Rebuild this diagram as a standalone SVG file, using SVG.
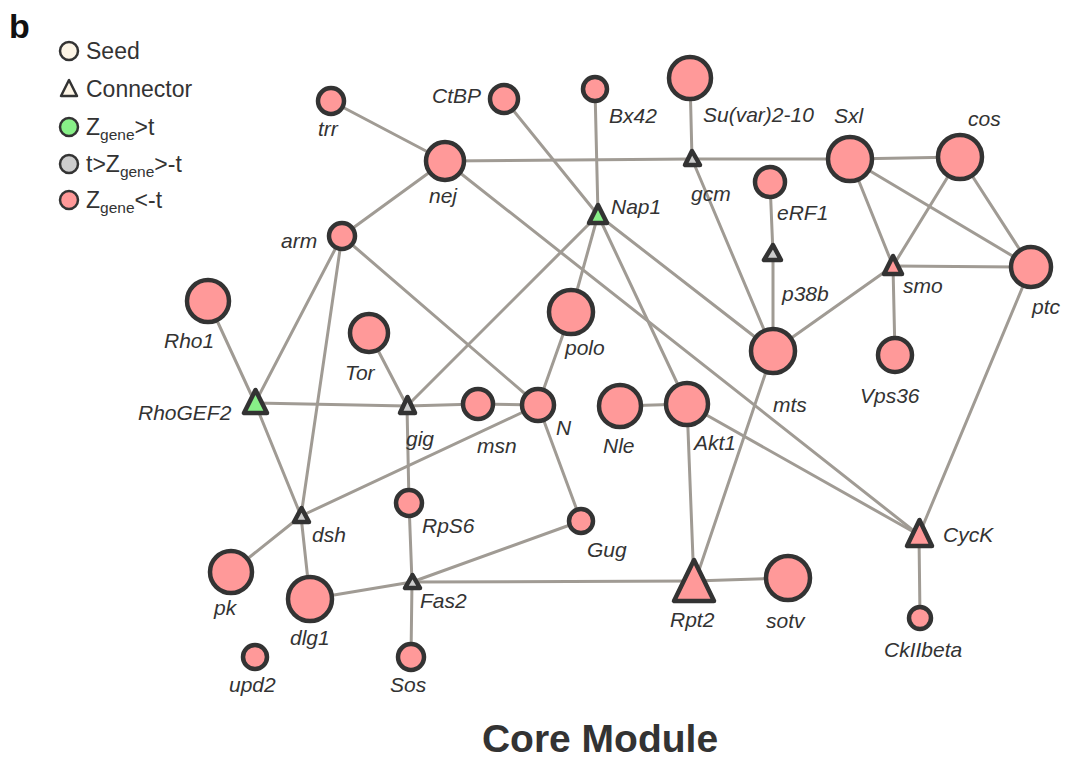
<svg xmlns="http://www.w3.org/2000/svg" width="1065" height="759" viewBox="0 0 1065 759">
<style>
.e{stroke:#a09b94;stroke-width:3;fill:none;stroke-linecap:round}
.n{fill:#ff9999;stroke:#333;stroke-width:4.5}
.t{stroke:#333;stroke-width:4.5;stroke-linejoin:round}
.pk{fill:#ff9999}
.gr{fill:#88f088}
.gy{fill:#cccccc}
.lb{font-family:"Liberation Sans",Arial,sans-serif;font-style:italic;font-size:21px;fill:#333}
.lg{font-family:"Liberation Sans",Arial,sans-serif;font-size:23px;fill:#333}
.li{stroke:#333;stroke-width:2.5}
</style>
<rect width="1065" height="759" fill="#fff"/>
<text x="9" y="38" font-family="Liberation Sans,Arial,sans-serif" font-weight="bold" font-size="34" fill="#111">b</text>
<g id="legend">
<circle cx="69" cy="51" r="9" fill="#fdf5e6" class="li"/>
<text x="86" y="59" class="lg">Seed</text>
<path d="M69 80 L61 96 L77 96 Z" fill="#fdf5e6" class="li" stroke-linejoin="round"/>
<text x="86" y="97" class="lg">Connector</text>
<circle cx="69" cy="127" r="9" fill="#88f088" class="li"/>
<text x="86" y="135" class="lg">Z<tspan font-size="15.5" dy="5">gene</tspan><tspan dy="-5">&gt;t</tspan></text>
<circle cx="69" cy="164" r="9" fill="#cccccc" class="li"/>
<text x="86" y="172" class="lg">t&gt;Z<tspan font-size="15.5" dy="5">gene</tspan><tspan dy="-5">&gt;-t</tspan></text>
<circle cx="69" cy="200" r="9" fill="#ff9999" class="li"/>
<text x="86" y="208" class="lg">Z<tspan font-size="15.5" dy="5">gene</tspan><tspan dy="-5">&lt;-t</tspan></text>
</g>
<g id="edges">
<line class="e" x1="331" y1="101" x2="445" y2="161"/>
<line class="e" x1="445" y1="161" x2="692" y2="159"/>
<line class="e" x1="692" y1="159" x2="850" y2="159"/>
<line class="e" x1="850" y1="159" x2="960" y2="157"/>
<line class="e" x1="690" y1="78" x2="692" y2="159"/>
<line class="e" x1="692" y1="159" x2="773" y2="351"/>
<line class="e" x1="504" y1="99" x2="598" y2="215"/>
<line class="e" x1="595" y1="89" x2="598" y2="215"/>
<line class="e" x1="445" y1="161" x2="342" y2="236"/>
<line class="e" x1="445" y1="161" x2="919" y2="535"/>
<line class="e" x1="598" y1="215" x2="407" y2="406"/>
<line class="e" x1="598" y1="215" x2="571" y2="312"/>
<line class="e" x1="598" y1="215" x2="687" y2="404"/>
<line class="e" x1="598" y1="215" x2="773" y2="351"/>
<line class="e" x1="571" y1="312" x2="538" y2="405"/>
<line class="e" x1="342" y1="236" x2="255" y2="403"/>
<line class="e" x1="342" y1="236" x2="301" y2="516"/>
<line class="e" x1="342" y1="236" x2="538" y2="405"/>
<line class="e" x1="208" y1="301" x2="255" y2="403"/>
<line class="e" x1="255" y1="403" x2="407" y2="406"/>
<line class="e" x1="255" y1="403" x2="301" y2="516"/>
<line class="e" x1="369" y1="333" x2="407" y2="406"/>
<line class="e" x1="407" y1="406" x2="478" y2="404"/>
<line class="e" x1="478" y1="404" x2="538" y2="405"/>
<line class="e" x1="407" y1="406" x2="409" y2="503"/>
<line class="e" x1="538" y1="405" x2="301" y2="516"/>
<line class="e" x1="538" y1="405" x2="581" y2="521"/>
<line class="e" x1="620" y1="406" x2="687" y2="404"/>
<line class="e" x1="687" y1="404" x2="694" y2="585"/>
<line class="e" x1="687" y1="404" x2="919" y2="535"/>
<line class="e" x1="773" y1="351" x2="694" y2="585"/>
<line class="e" x1="773" y1="351" x2="773" y2="254"/>
<line class="e" x1="773" y1="254" x2="770" y2="182"/>
<line class="e" x1="773" y1="351" x2="893" y2="266"/>
<line class="e" x1="850" y1="159" x2="893" y2="266"/>
<line class="e" x1="850" y1="159" x2="1031" y2="267"/>
<line class="e" x1="960" y1="157" x2="893" y2="266"/>
<line class="e" x1="960" y1="157" x2="1031" y2="267"/>
<line class="e" x1="893" y1="266" x2="1031" y2="267"/>
<line class="e" x1="893" y1="266" x2="895" y2="355"/>
<line class="e" x1="1031" y1="267" x2="919" y2="535"/>
<line class="e" x1="919" y1="535" x2="920" y2="618"/>
<line class="e" x1="301" y1="516" x2="231" y2="572"/>
<line class="e" x1="301" y1="516" x2="310" y2="599"/>
<line class="e" x1="310" y1="599" x2="412" y2="582"/>
<line class="e" x1="409" y1="503" x2="412" y2="582"/>
<line class="e" x1="412" y1="582" x2="411" y2="657"/>
<line class="e" x1="412" y1="582" x2="581" y2="521"/>
<line class="e" x1="412" y1="582" x2="694" y2="581"/>
<line class="e" x1="694" y1="581" x2="788" y2="578"/>
</g>
<g id="trr"><circle class="n" cx="331" cy="101" r="13"/><text class="lb" x="318" y="136">trr</text></g>
<g id="CtBP"><circle class="n" cx="504" cy="99" r="14"/><text class="lb" x="432" y="103">CtBP</text></g>
<g id="Bx42"><circle class="n" cx="595" cy="89" r="12"/><text class="lb" x="609" y="123">Bx42</text></g>
<g id="Suvar210"><circle class="n" cx="690" cy="78" r="21"/><text class="lb" x="703" y="122">Su(var)2-10</text></g>
<g id="nej"><circle class="n" cx="445" cy="161" r="19"/><text class="lb" x="429" y="203">nej</text></g>
<g id="gcm"><path class="t gy" d="M692 151 L685 165 L700 165 Z"/><text class="lb" x="691" y="201">gcm</text></g>
<g id="Sxl"><circle class="n" cx="850" cy="159" r="22"/><text class="lb" x="834" y="123">Sxl</text></g>
<g id="cos"><circle class="n" cx="960" cy="157" r="22"/><text class="lb" x="968" y="126">cos</text></g>
<g id="eRF1"><circle class="n" cx="770" cy="182" r="15"/><text class="lb" x="777" y="220">eRF1</text></g>
<g id="Nap1"><path class="t gr" d="M598 205 L589 223 L607 223 Z"/><text class="lb" x="611" y="214">Nap1</text></g>
<g id="arm"><circle class="n" cx="342" cy="236" r="13"/><text class="lb" x="281" y="248">arm</text></g>
<g id="p38b"><path class="t gy" d="M773 245 L764 260 L781 260 Z"/><text class="lb" x="782" y="301">p38b</text></g>
<g id="smo"><path class="t pk" d="M893 256 L884 274 L902 274 Z"/><text class="lb" x="903" y="293">smo</text></g>
<g id="ptc"><circle class="n" cx="1031" cy="267" r="20"/><text class="lb" x="1032" y="314">ptc</text></g>
<g id="Rho1"><circle class="n" cx="208" cy="301" r="21"/><text class="lb" x="164" y="348">Rho1</text></g>
<g id="polo"><circle class="n" cx="571" cy="312" r="22"/><text class="lb" x="565" y="355">polo</text></g>
<g id="Tor"><circle class="n" cx="369" cy="333" r="19"/><text class="lb" x="345" y="380">Tor</text></g>
<g id="mts"><circle class="n" cx="773" cy="351" r="22"/><text class="lb" x="773" y="412">mts</text></g>
<g id="Vps36"><circle class="n" cx="895" cy="355" r="17"/><text class="lb" x="860" y="403">Vps36</text></g>
<g id="RhoGEF2"><path class="t gr" d="M255.5 390 L244 413 L267 413 Z"/><text class="lb" x="138" y="420">RhoGEF2</text></g>
<g id="gig"><path class="t gy" d="M407.5 397 L400 413 L415 413 Z"/><text class="lb" x="406" y="446">gig</text></g>
<g id="msn"><circle class="n" cx="478" cy="404" r="15"/><text class="lb" x="477" y="453">msn</text></g>
<g id="N"><circle class="n" cx="538" cy="405" r="16"/><text class="lb" x="556" y="435">N</text></g>
<g id="Nle"><circle class="n" cx="620" cy="406" r="21"/><text class="lb" x="603" y="453">Nle</text></g>
<g id="Akt1"><circle class="n" cx="687" cy="404" r="21"/><text class="lb" x="694" y="450">Akt1</text></g>
<g id="dsh"><path class="t gy" d="M301.5 508 L294 522 L309 522 Z"/><text class="lb" x="312" y="542">dsh</text></g>
<g id="RpS6"><circle class="n" cx="409" cy="503" r="13"/><text class="lb" x="422" y="533">RpS6</text></g>
<g id="Gug"><circle class="n" cx="581" cy="521" r="12"/><text class="lb" x="587" y="557">Gug</text></g>
<g id="CycK"><path class="t pk" d="M919.5 520 L907 546 L932 546 Z"/><text class="lb" x="943" y="542">CycK</text></g>
<g id="pk"><circle class="n" cx="231" cy="572" r="21"/><text class="lb" x="214" y="615">pk</text></g>
<g id="dlg1"><circle class="n" cx="310" cy="599" r="22"/><text class="lb" x="290" y="645">dlg1</text></g>
<g id="Fas2"><path class="t gy" d="M412.5 575 L405 588 L420 588 Z"/><text class="lb" x="420" y="608">Fas2</text></g>
<g id="Rpt2"><path class="t pk" d="M694 560 L674 601 L714 601 Z"/><text class="lb" x="670" y="627">Rpt2</text></g>
<g id="sotv"><circle class="n" cx="788" cy="578" r="22"/><text class="lb" x="766" y="628">sotv</text></g>
<g id="CkIIbeta"><circle class="n" cx="920" cy="618" r="11"/><text class="lb" x="884" y="657">CkIIbeta</text></g>
<g id="upd2"><circle class="n" cx="255" cy="657" r="12"/><text class="lb" x="229" y="692">upd2</text></g>
<g id="Sos"><circle class="n" cx="411" cy="657" r="13"/><text class="lb" x="390" y="692">Sos</text></g>
<text x="600" y="752" text-anchor="middle" font-family="Liberation Sans,Arial,sans-serif" font-weight="bold" font-size="39" fill="#333">Core Module</text>
</svg>
